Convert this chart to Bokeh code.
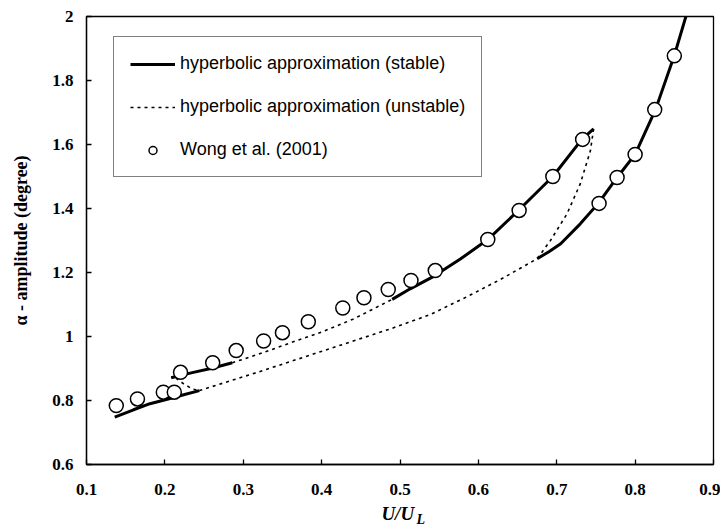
from bokeh.plotting import figure
from bokeh.layouts import column
from bokeh.models import Legend, LegendItem, FixedTicker, Label, Range1d
from bokeh.embed import file_html
from bokeh.resources import INLINE

# ---- data ----
wong_x = [0.138, 0.165, 0.198, 0.212, 0.220, 0.261, 0.291, 0.326, 0.350, 0.383, 0.427, 0.454,
          0.485, 0.514, 0.545, 0.612, 0.652, 0.695, 0.733, 0.754, 0.777, 0.800, 0.825, 0.850]
wong_y = [0.784, 0.805, 0.826, 0.826, 0.888, 0.918, 0.956, 0.986, 1.012, 1.046, 1.089, 1.121,
          1.147, 1.175, 1.206, 1.303, 1.394, 1.500, 1.616, 1.416, 1.497, 1.569, 1.709, 1.877]

stable_a_x = [0.136, 0.160, 0.181, 0.203, 0.224, 0.244]
stable_a_y = [0.748, 0.771, 0.790, 0.804, 0.818, 0.831]
stable_b_x = [0.208, 0.235, 0.260, 0.286]
stable_b_y = [0.871, 0.887, 0.901, 0.918]
stable_d_x = [0.490, 0.513, 0.543, 0.577, 0.612, 0.652, 0.695, 0.732, 0.747]
stable_d_y = [1.116, 1.149, 1.188, 1.242, 1.303, 1.396, 1.500, 1.616, 1.649]
stable_f_x = [0.675, 0.690, 0.705, 0.730, 0.753, 0.777, 0.800, 0.826, 0.850, 0.866]
stable_f_y = [1.243, 1.265, 1.290, 1.352, 1.416, 1.497, 1.569, 1.709, 1.878, 2.010]

unstable_h_x = [0.214, 0.224, 0.235, 0.244]
unstable_h_y = [0.870, 0.852, 0.836, 0.831]
unstable_c_x = [0.286, 0.320, 0.360, 0.400, 0.440, 0.490]
unstable_c_y = [0.918, 0.945, 0.980, 1.014, 1.054, 1.116]
unstable_e_x = [0.747, 0.743, 0.730, 0.713, 0.692, 0.675]
unstable_e_y = [1.649, 1.581, 1.477, 1.383, 1.300, 1.243]
unstable_g_x = [0.244, 0.318, 0.403, 0.488, 0.539, 0.586, 0.628, 0.675]
unstable_g_y = [0.831, 0.888, 0.956, 1.024, 1.069, 1.125, 1.178, 1.243]

x_ticks = [0.1, 0.2, 0.3, 0.4, 0.5, 0.6, 0.7, 0.8, 0.9]
y_ticks = [0.6, 0.8, 1.0, 1.2, 1.4, 1.6, 1.8, 2.0]
y_tick_labels = ["0.6", "0.8", "1", "1.2", "1.4", "1.6", "1.8", "2"]
x_title_main = "U/U"
x_title_sub = "L"

SERIF = "Liberation Serif"
SANS = "Liberation Sans"

p = figure(width=720, height=500, output_backend="svg", toolbar_location=None,
           x_range=Range1d(0.1, 0.9), y_range=Range1d(0.6, 2.0),
           min_border_left=86, min_border_right=7, min_border_top=16, min_border_bottom=36)
p.grid.visible = False
p.outline_line_color = "black"
p.outline_line_width = 1.3
p.background_fill_color = "white"
p.border_fill_color = "white"

for ax in (p.xaxis[0], p.yaxis[0]):
    ax.axis_line_color = "black"
    ax.axis_line_width = 1.3
    ax.major_tick_in = 5
    ax.major_tick_out = 0
    ax.minor_tick_line_color = None
    ax.major_tick_line_color = "black"
    ax.major_tick_line_width = 1.3
    ax.major_label_text_font = SERIF
    ax.major_label_text_font_style = "bold"
    ax.major_label_text_font_size = "17px"
    ax.major_label_text_color = "black"

p.xaxis.ticker = FixedTicker(ticks=x_ticks)
p.yaxis.ticker = FixedTicker(ticks=y_ticks)
p.yaxis.major_label_overrides = {t: l for t, l in zip(y_ticks, y_tick_labels)}
p.xaxis.major_label_standoff = 19
p.yaxis.major_label_standoff = 13

p.yaxis.axis_label = "α - amplitude (degree)"
p.yaxis.axis_label_text_font = SERIF
p.yaxis.axis_label_text_font_style = "bold"
p.yaxis.axis_label_text_font_size = "18px"
p.yaxis.axis_label_text_color = "black"
p.yaxis.axis_label_standoff = 18

stable = p.multi_line(xs=[stable_a_x, stable_b_x, stable_d_x, stable_f_x],
                      ys=[stable_a_y, stable_b_y, stable_d_y, stable_f_y],
                      line_color="black", line_width=3)
unstable = p.multi_line(xs=[unstable_h_x, unstable_c_x, unstable_e_x, unstable_g_x],
                        ys=[unstable_h_y, unstable_c_y, unstable_e_y, unstable_g_y],
                        line_color="black", line_width=1.6, line_dash="3 4")
wong = p.scatter(wong_x, wong_y, size=14, marker="circle", fill_color="white",
                 line_color="black", line_width=1.5)

legend = Legend(items=[LegendItem(label="hyperbolic approximation (stable)", renderers=[stable]),
                       LegendItem(label="hyperbolic approximation (unstable)", renderers=[unstable]),
                       LegendItem(label="Wong et al. (2001)", renderers=[wong])],
                location=(27, 287), orientation="vertical",
                label_text_font=SANS, label_text_font_size="18px", label_text_color="black",
                glyph_width=45, glyph_height=20, label_standoff=5, spacing=22, padding=16,
                margin=0, border_line_color="black", border_line_width=1.3,
                background_fill_color="white", background_fill_alpha=1.0)
p.add_layout(legend)

# x-axis title strip (U/U with subscript L)
p2 = figure(width=720, height=28, output_backend="svg", toolbar_location=None,
            x_range=Range1d(0.1, 0.9), y_range=Range1d(0, 1),
            x_axis_location=None, y_axis_location=None,
            min_border_left=86, min_border_right=7, min_border_top=0, min_border_bottom=0)
p2.grid.visible = False
p2.outline_line_color = None
p2.background_fill_color = "white"
p2.border_fill_color = "white"
p2.add_layout(Label(x=0.518, y=15, x_units="data", y_units="screen", text=x_title_main,
                    text_align="right", text_baseline="middle", text_font=SERIF,
                    text_font_style="bold italic", text_font_size="19px", text_color="black"))
p2.add_layout(Label(x=0.521, y=9, x_units="data", y_units="screen", text=x_title_sub,
                    text_align="left", text_baseline="middle", text_font=SERIF,
                    text_font_style="bold italic", text_font_size="14px", text_color="black"))

layout = column(p, p2, spacing=0)
open("out.html", "w").write(file_html(layout, INLINE))
